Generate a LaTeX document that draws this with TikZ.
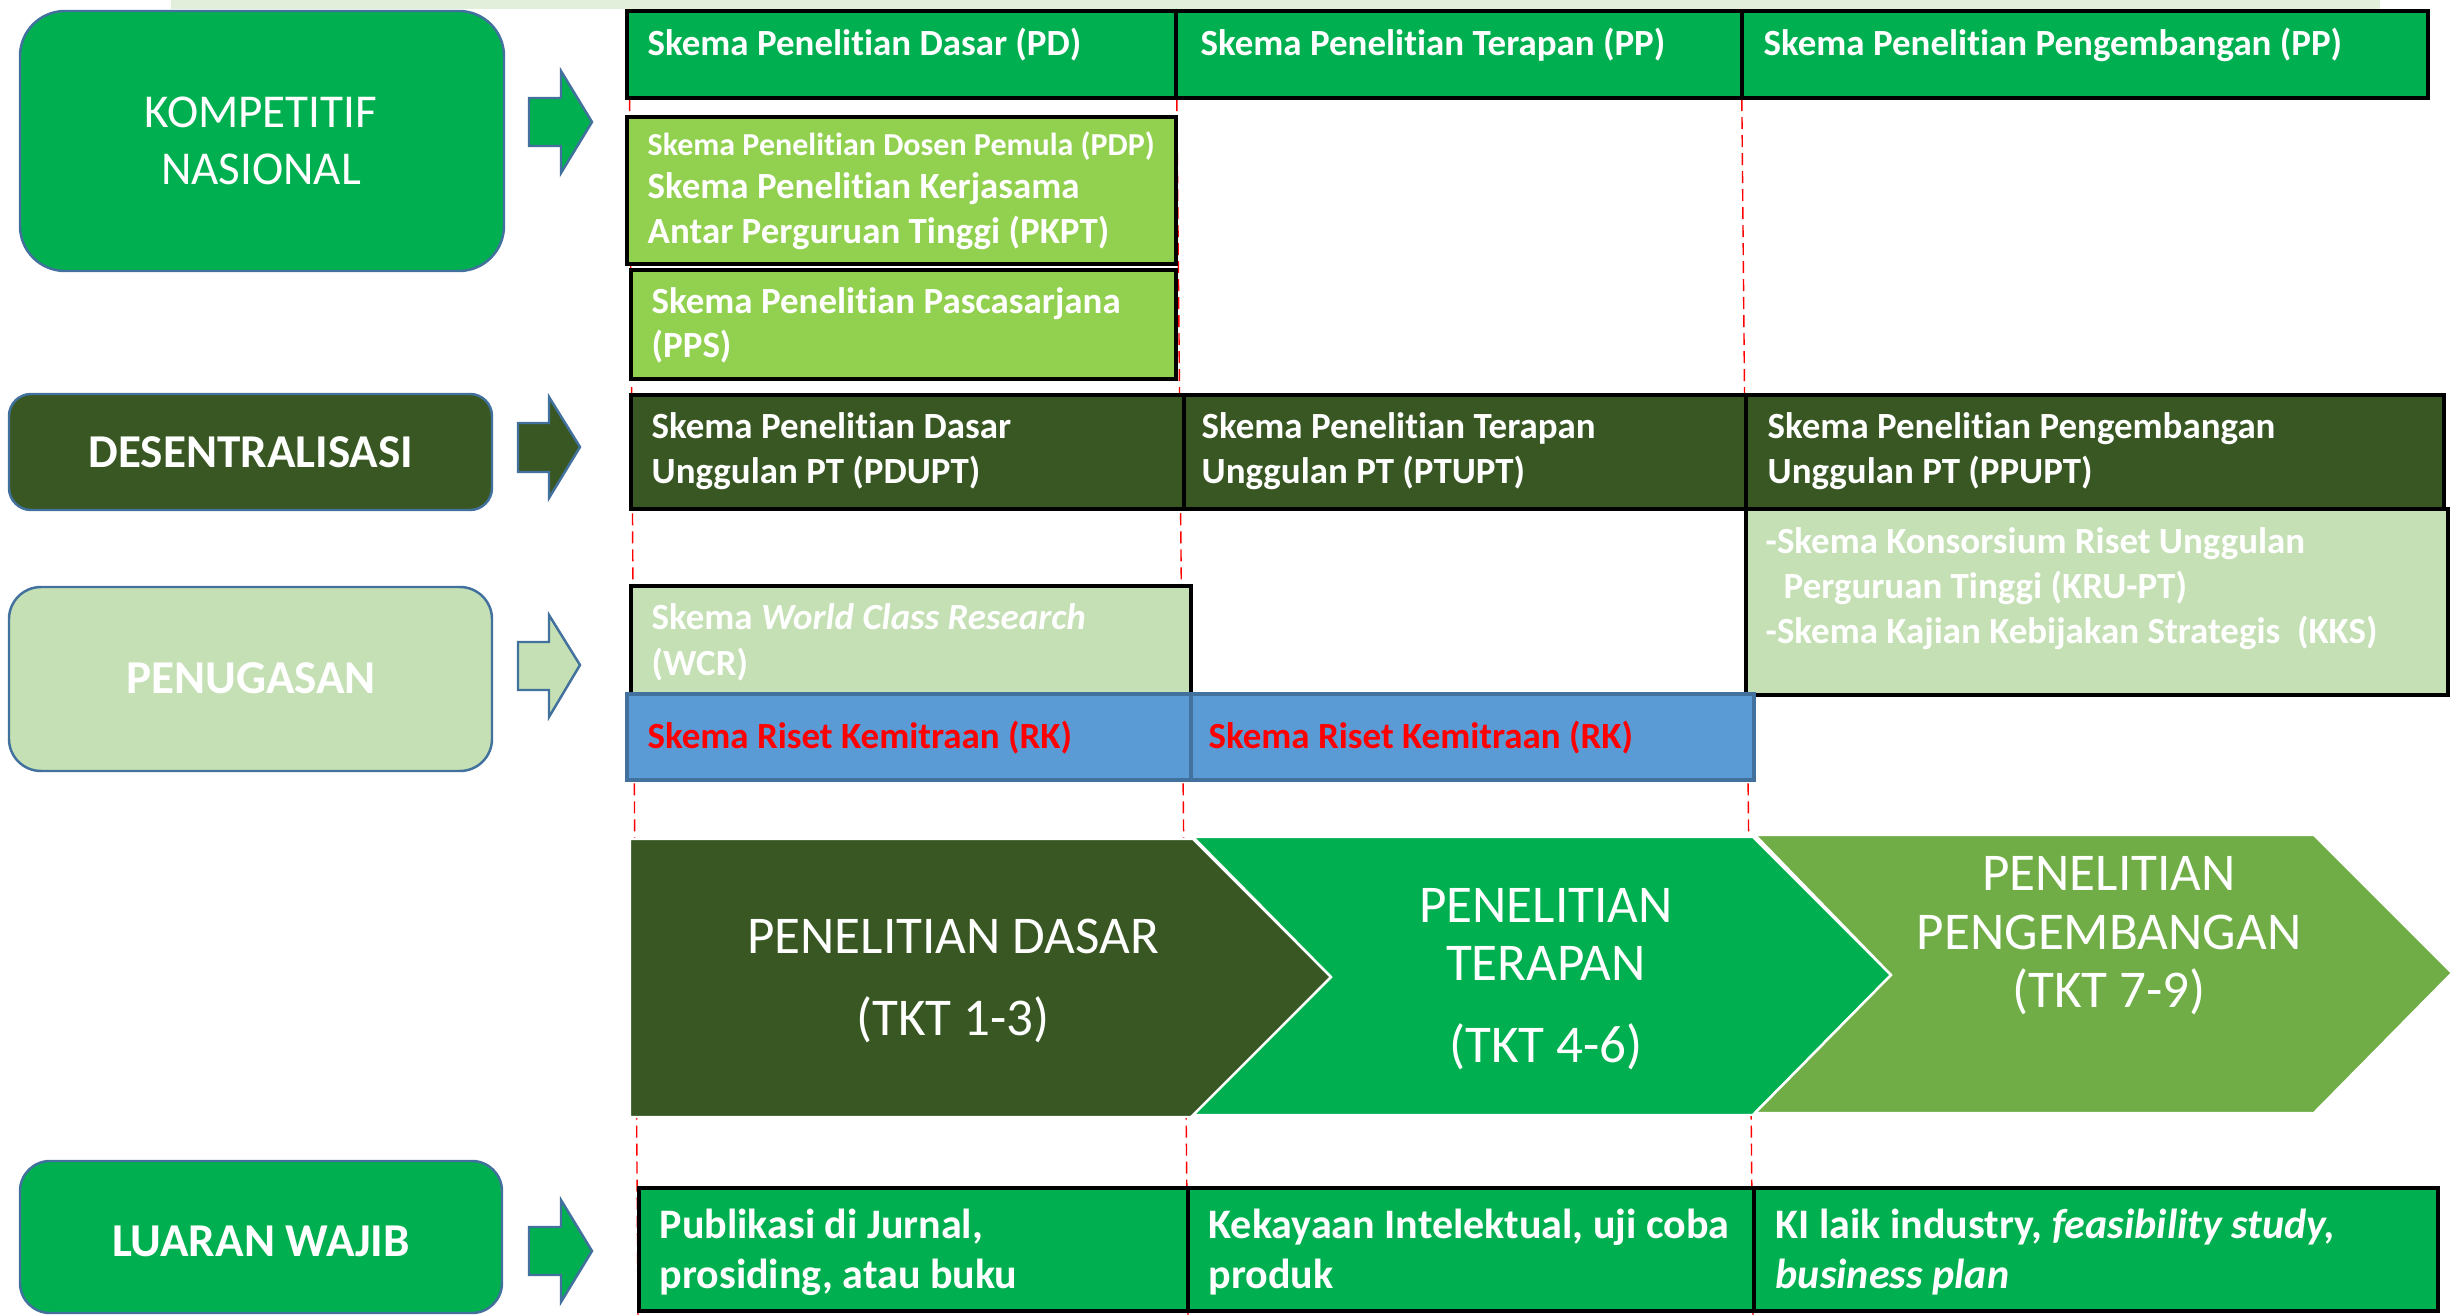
\documentclass[tikz,border=0pt]{standalone}
\usepackage{fontspec}
\setmainfont[Ligatures={NoCommon}]{Carlito}
\definecolor{cGreen}{HTML}{00B050}
\definecolor{cLight}{HTML}{92D050}
\definecolor{cDark}{HTML}{385723}
\definecolor{cPale}{HTML}{C5E0B4}
\definecolor{cOlive}{HTML}{70AD47}
\definecolor{cBlue}{HTML}{5B9BD5}
\definecolor{cBlueB}{HTML}{41719C}
\definecolor{cStrip}{HTML}{E2EFDA}
\definecolor{cRed}{HTML}{FF0000}
\begin{document}
\begin{tikzpicture}[x=0.01cm,y=-0.01cm,
  cell/.style={draw=black,line width=1pt},
  rbox/.style={draw=cBlueB,line width=0.7pt},
  barrow/.style={draw=cBlueB,line width=0.7pt},
  chev/.style={draw=white,line width=0.7pt},
  guide/.style={draw=cRed,line width=0.4pt,dash pattern=on 0.12cm off 0.06cm},
  lab/.style={anchor=base west,inner sep=0,text=white,font=\fontsize{10.5}{12.8}\selectfont\bfseries},
  lablg/.style={anchor=base west,inner sep=0,text=white,font=\fontsize{11.95}{14}\selectfont\bfseries},
  side/.style={anchor=base,inner sep=0,text=white,font=\fontsize{13.4}{16}\selectfont\bfseries},
  sidereg/.style={anchor=base,inner sep=0,text=white,font=\fontsize{13.4}{16}\selectfont},
  chevlab/.style={anchor=base,inner sep=0,text=white,font=\fontsize{15.1}{18}\selectfont}]
\useasboundingbox (0,0) rectangle (2456,1315);
\fill[white] (0,0) rectangle (2456,1315);
% top strip
\fill[cStrip] (171,0) rectangle (2380,9);
% guide lines
\coordinate (g1t) at (629,9);  \coordinate (g1b) at (638,1315);
\coordinate (g2t) at (1176,9); \coordinate (g2b) at (1188,1315);
\coordinate (g3t) at (1741,9); \coordinate (g3b) at (1753,1315);
\draw[guide] (g1t) -- (g1b);
\draw[guide] (g2t) -- (g2b);
\draw[guide] (g3t) -- (g3b);
% left rounded boxes
\draw[rbox,fill=cGreen,rounded corners=0.45cm] (20,11) rectangle (504,271);
\draw[rbox,fill=cDark,rounded corners=0.22cm] (9,394) rectangle (492,510);
\draw[rbox,fill=cPale,rounded corners=0.32cm] (9,587) rectangle (492,771);
\draw[rbox,fill=cGreen,rounded corners=0.3cm] (20,1161) rectangle (502,1313);
\node[sidereg] (kom1) at (261,127) {KOMPETITIF};
\node[sidereg] (kom2) at (261,184) {NASIONAL};
\node[side] (des) at (251,467) {DESENTRALISASI};
\node[side] (pen) at (251,693) {PENUGASAN};
\node[side] (lua) at (261,1256) {LUARAN WAJIB};
% block arrows
\draw[barrow,fill=cGreen] (529,98) -- (561,98) -- (561,71) -- (592,122) -- (561,173) -- (561,146) -- (529,146) -- cycle;
\draw[barrow,fill=cDark] (518,423) -- (549,423) -- (549,397) -- (580,447) -- (549,498) -- (549,472) -- (518,472) -- cycle;
\draw[barrow,fill=cPale] (518,642) -- (549,642) -- (549,615) -- (580,665) -- (549,717) -- (549,690) -- (518,690) -- cycle;
\draw[barrow,fill=cGreen] (529,1227) -- (561,1227) -- (561,1200) -- (592,1251) -- (561,1302) -- (561,1275) -- (529,1275) -- cycle;
% top row
\draw[cell,fill=cGreen] (627,11) rectangle (1176,98);
\draw[cell,fill=cGreen] (1176,11) rectangle (1742,98);
\draw[cell,fill=cGreen] (1742,11) rectangle (2428,98);
\node[lab] (pd) at (647,55) {Skema Penelitian Dasar (PD)};
\node[lab] (pp) at (1200,55) {Skema Penelitian Terapan (PP)};
\node[lab] (pg) at (1763,55) {Skema Penelitian Pengembangan (PP)};
% PDP / PKPT
\draw[cell,fill=cLight] (627,117) rectangle (1176,264);
\node[lab,font=\fontsize{9.1}{11}\selectfont\bfseries] (pdp) at (647,156) {Skema Penelitian Dosen Pemula (PDP)};
\node[lab] (pkpt1) at (647,199) {Skema Penelitian Kerjasama};
\node[lab] (pkpt2) at (647,243) {Antar Perguruan Tinggi (PKPT)};
% PPS
\draw[cell,fill=cLight] (631,270) rectangle (1176,379);
\node[lab] (pps1) at (651,313) {Skema Penelitian Pascasarjana};
\node[lab] (pps2) at (651,357) {(PPS)};
% desentralisasi row
\draw[cell,fill=cDark] (631,395) rectangle (1184,509);
\draw[cell,fill=cDark] (1184,395) rectangle (1746,509);
\draw[cell,fill=cDark] (1746,395) rectangle (2444,509);
\node[lab] (pdu1) at (651,438) {Skema Penelitian Dasar};
\node[lab] (pdu2) at (651,483) {Unggulan PT (PDUPT)};
\node[lab] (ptu1) at (1201,438) {Skema Penelitian Terapan};
\node[lab] (ptu2) at (1201,483) {Unggulan PT (PTUPT)};
\node[lab] (ppu1) at (1767,438) {Skema Penelitian Pengembangan};
\node[lab] (ppu2) at (1767,483) {Unggulan PT (PPUPT)};
% KRU / KKS
\draw[cell,fill=cPale] (1746,509) rectangle (2448,695);
\node[lab] (kru1) at (1765,553) {-Skema Konsorsium Riset Unggulan};
\node[lab] (kru2) at (1783,598) {Perguruan Tinggi (KRU-PT)};
\node[lab] (kks) at (1765,643) {-Skema Kajian Kebijakan Strategis\ \ (KKS)};
% WCR
\draw[cell,fill=cPale] (631,586) rectangle (1191,695);
\node[lab] (wcr1) at (651,629) {Skema \textit{World Class Research}};
\node[lab] (wcr2) at (651,675) {(WCR)};
% RK
\draw[draw=cBlueB,line width=1pt,fill=cBlue] (627,694) rectangle (1191,780);
\draw[draw=cBlueB,line width=1pt,fill=cBlue] (1191,694) rectangle (1754,780);
\node[lab,text=cRed] (rk1) at (647,748) {Skema Riset Kemitraan (RK)};
\node[lab,text=cRed] (rk2) at (1208,748) {Skema Riset Kemitraan (RK)};
% chevrons
\draw[chev,fill=cDark] (630,839) -- (1193,839) -- (1331,977) -- (1193,1117) -- (630,1117) -- cycle;
\draw[chev,fill=cGreen] (1193,837) -- (1753,837) -- (1891,975) -- (1753,1115) -- (1193,1115) -- (1331,977) -- cycle;
\draw[chev,fill=cOlive] (1755,835) -- (2314,835) -- (2452,973) -- (2314,1113) -- (1755,1113) -- (1891,975) -- cycle;
\node[chevlab] (c1a) at (953,953) {PENELITIAN DASAR};
\node[chevlab] (c1b) at (953,1035) {(TKT 1-3)};
\node[chevlab] (c2a) at (1546,922) {PENELITIAN};
\node[chevlab] (c2b) at (1546,980) {TERAPAN};
\node[chevlab] (c2c) at (1546,1062) {(TKT 4-6)};
\node[chevlab] (c3a) at (2109,890) {PENELITIAN};
\node[chevlab] (c3b) at (2109,949) {PENGEMBANGAN};
\node[chevlab] (c3c) at (2109,1007) {(TKT 7-9)};
% luaran row
\draw[cell,fill=cGreen] (639,1188) rectangle (1188,1311);
\draw[cell,fill=cGreen] (1188,1188) rectangle (1754,1311);
\draw[cell,fill=cGreen] (1754,1188) rectangle (2438,1311);
\node[lablg] (l1a) at (659,1238) {Publikasi di Jurnal,};
\node[lablg] (l1b) at (659,1288) {prosiding, atau buku};
\node[lablg] (l2a) at (1208,1238) {Kekayaan Intelektual, uji coba};
\node[lablg] (l2b) at (1208,1288) {produk};
\node[lablg] (l3a) at (1775,1238) {KI laik industry, \textit{feasibility study,}};
\node[lablg] (l3b) at (1775,1288) {\textit{business plan}};
\end{tikzpicture}
\end{document}
